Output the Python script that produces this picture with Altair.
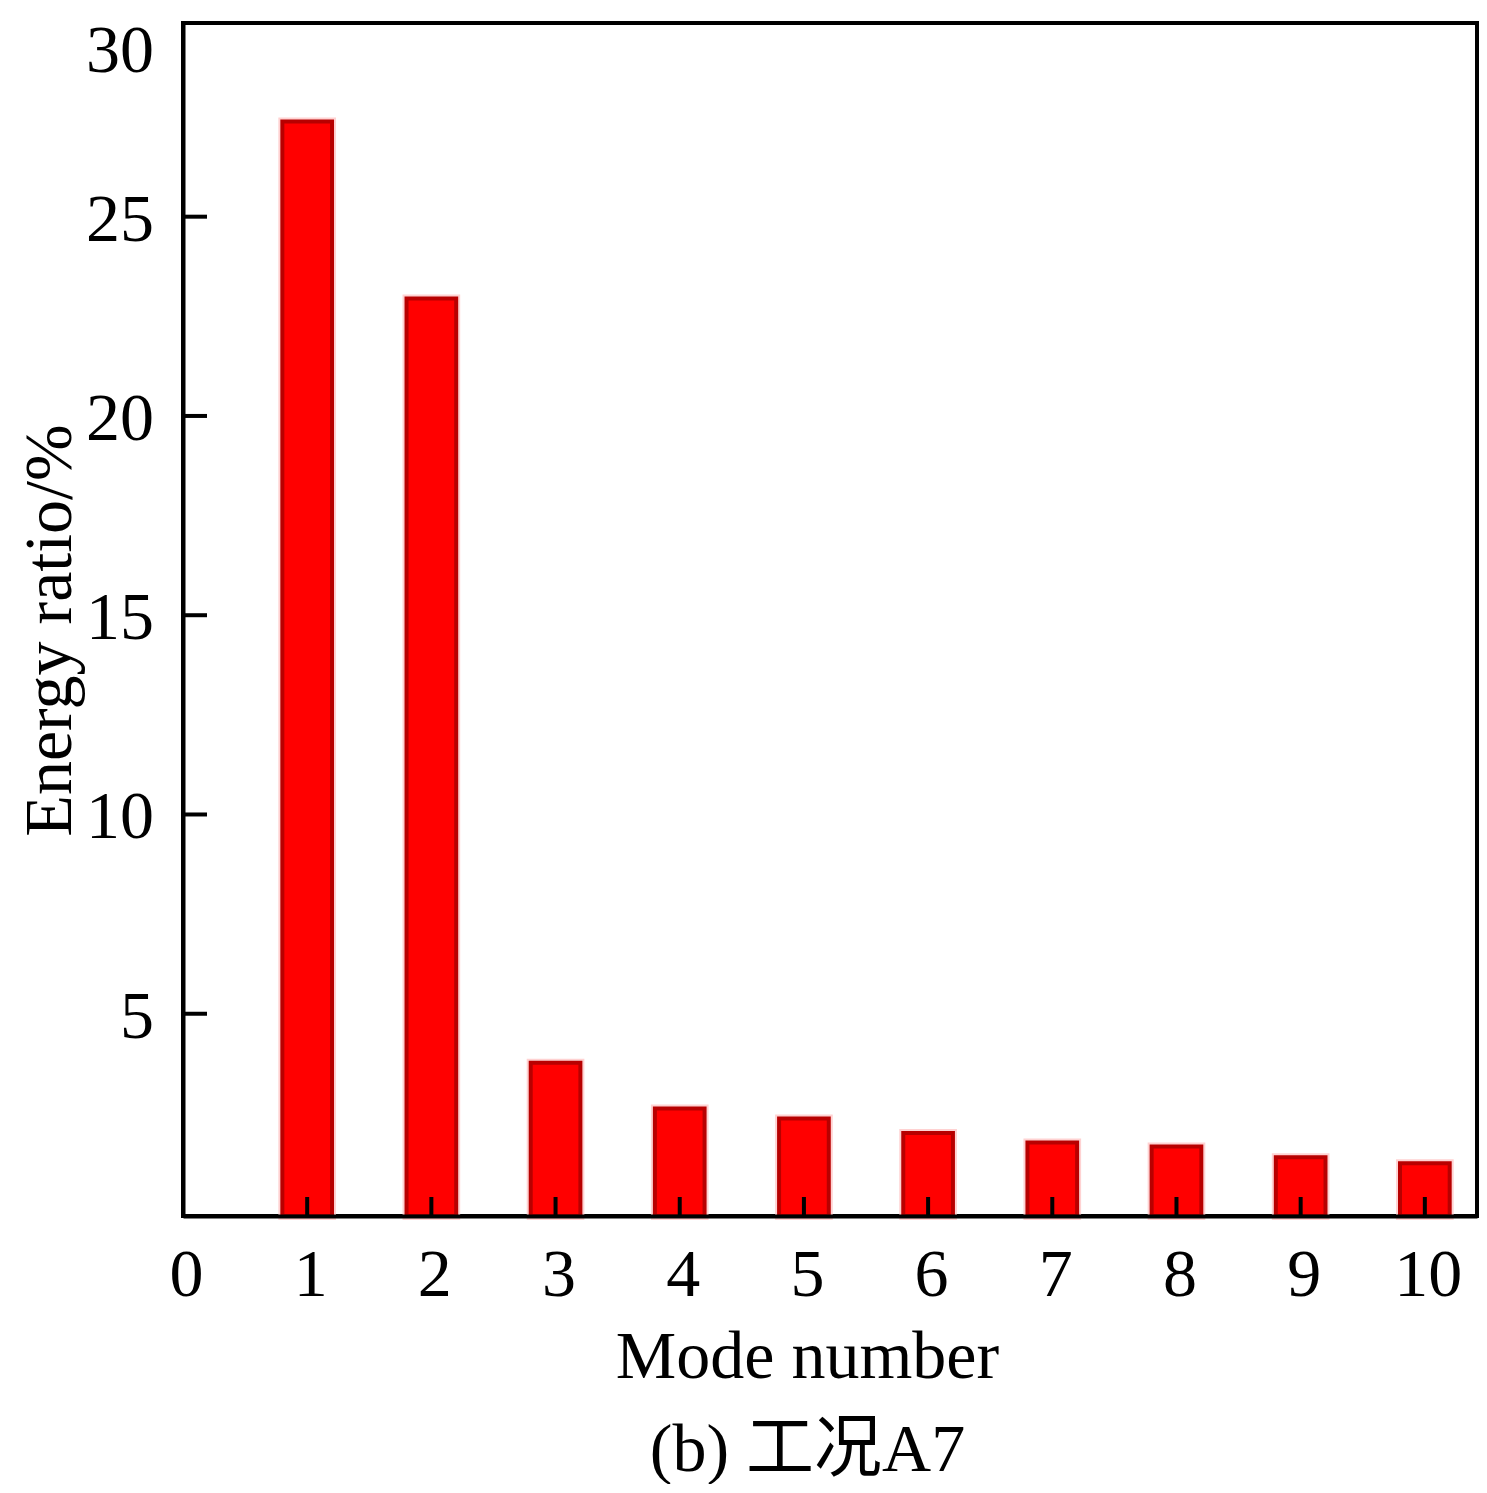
import altair as alt
import pandas as pd

# ---- data ----
modes = [1, 2, 3, 4, 5, 6, 7, 8, 9, 10]
energy_ratio = [27.39, 22.95, 3.77, 2.62, 2.37, 2.01, 1.77, 1.67, 1.40, 1.25]
x_tick_values = [1, 2, 3, 4, 5, 6, 7, 8, 9, 10]
x_label_values = [0, 1, 2, 3, 4, 5, 6, 7, 8, 9, 10]
y_tick_values = [5, 10, 15, 20, 25]
y_label_values = [5, 10, 15, 20, 25]
y_top_label = [30]

X_DOMAIN = [0, 10.42]
Y_DOMAIN = [-0.075, 29.86]
HALF_BAR = 0.2

W, H = 1294, 1193
SERIF = "Liberation Serif, 'Noto Sans CJK SC', serif"
FS = 68

bars_df = pd.DataFrame({"mode": modes, "ratio": energy_ratio})
bars_df["x0"] = bars_df["mode"] - HALF_BAR
bars_df["x1"] = bars_df["mode"] + HALF_BAR
xt_df = pd.DataFrame({"v": x_tick_values})
yt_df = pd.DataFrame({"v": y_tick_values})
yl_df = pd.DataFrame({"v": y_label_values, "t": [str(v) for v in y_label_values]})
ytop_df = pd.DataFrame({"v": y_top_label, "t": [str(v) for v in y_top_label]})

xscale = alt.Scale(domain=X_DOMAIN, nice=False, zero=False)
yscale = alt.Scale(domain=Y_DOMAIN, nice=False, zero=False)

xaxis = alt.Axis(
    values=x_label_values, grid=False, ticks=False, domain=True,
    domainColor="black", domainWidth=4, zindex=1,
    labelFont=SERIF, labelFontSize=FS, labelColor="black",
    labelBaseline="alphabetic", labelPadding=79, labelFlush=False,
    labelOverlap=False, labelOffset=3, format="d",
    title=["Mode number", "(b) 工况A7"], titleFont=SERIF, titleFontSize=FS,
    titleFontWeight="normal", titleColor="black", titleBaseline="alphabetic",
    titleAlign="center", titleX=624, titleY=161, titleLineHeight=93,
)
yaxis = alt.Axis(
    grid=False, ticks=False, labels=False, domain=True,
    domainColor="black", domainWidth=4, zindex=1,
    title="Energy ratio/%", titleFont=SERIF, titleFontSize=FS,
    titleFontWeight="normal", titleColor="black", titleBaseline="alphabetic",
    titleAlign="center", titleAngle=270, titleX=-113, titleY=607,
)

halo = alt.Chart(bars_df).mark_bar(
    fill="#ffcccc", stroke="#ffd2d2", strokeWidth=8
).encode(
    x=alt.X("x0:Q", scale=xscale, axis=xaxis),
    x2="x1:Q",
    y=alt.Y("ratio:Q", scale=yscale, axis=yaxis),
    y2=alt.datum(Y_DOMAIN[0]),
)

bars = alt.Chart(bars_df).mark_bar(
    fill="#ff0000", stroke="#b80000", strokeWidth=4
).encode(
    x=alt.X("x0:Q", scale=xscale),
    x2="x1:Q",
    y=alt.Y("ratio:Q", scale=yscale),
    y2=alt.datum(Y_DOMAIN[0]),
)

xticks = alt.Chart(xt_df).mark_rule(color="black", strokeWidth=4).encode(
    x=alt.X("v:Q", scale=xscale),
    y=alt.value(H),
    y2=alt.value(H - 19),
)

yticks = alt.Chart(yt_df).mark_rule(color="black", strokeWidth=4).encode(
    y=alt.Y("v:Q", scale=yscale),
    x=alt.value(0),
    x2=alt.value(24),
)

ylabels = alt.Chart(yl_df).mark_text(
    font=SERIF, fontSize=FS, color="black", align="right", baseline="middle", dy=4
).encode(
    y=alt.Y("v:Q", scale=yscale),
    x=alt.value(-29),
    text="t:N",
)

ytoplabel = alt.Chart(ytop_df).mark_text(
    font=SERIF, fontSize=FS, color="black", align="right", baseline="middle", dy=35
).encode(
    y=alt.Y("v:Q", scale=yscale),
    x=alt.value(-29),
    text="t:N",
)

chart = alt.layer(halo, bars, xticks, yticks, ylabels, ytoplabel).properties(
    width=W, height=H,
    autosize=alt.AutoSizeParams(type="none"),
    padding={"left": 175, "top": 15, "right": 2, "bottom": 268},
).configure(
    background="white"
).configure_view(
    stroke="black", strokeWidth=4
)

chart.save("out.html", embed_options={"renderer": "svg", "actions": False})
